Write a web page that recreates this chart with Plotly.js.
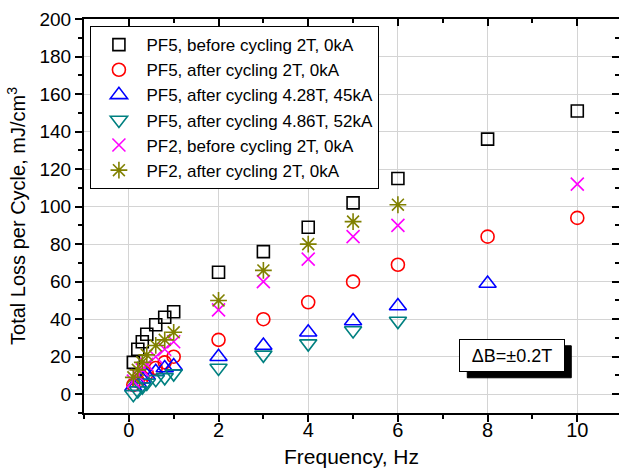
<!DOCTYPE html>
<html>
<head>
<meta charset="utf-8">
<script src="https://cdn.plot.ly/plotly-3.0.1.min.js"></script>
<style>html,body{margin:0;padding:0;overflow:hidden;background:#fff;}</style>
</head>
<body>
<div id="chart" style="width:619px;height:468px;"></div>
<script>
// Frequency values (Hz)
const freqLow = [0.1, 0.2, 0.3, 0.4, 0.6, 0.8, 1.0];
const freqPF5before = freqLow.concat([2, 3, 4, 5, 6, 8, 10]);
const freqPF5after2T = freqLow.concat([2, 3, 4, 5, 6, 8, 10]);
const freqPF5after428 = freqLow.concat([2, 3, 4, 5, 6, 8]);
const freqPF5after486 = freqLow.concat([2, 3, 4, 5, 6]);
const freqPF2before = freqLow.concat([2, 3, 4, 5, 6, 10]);
const freqPF2after = freqLow.concat([2, 3, 4, 5, 6]);

// Total loss per cycle (mJ/cm3)
const lossPF5before = [17, 24, 28, 32, 37, 41, 44, 65, 76, 89, 102, 115, 136, 151];
const lossPF5after2T = [5, 7, 9, 11, 14, 17, 20, 29, 40, 49, 60, 69, 84, 94];
const lossPF5after428 = [4, 6, 8, 10, 12, 14, 15, 20, 26, 33, 39, 47, 59];
const lossPF5after486 = [0, 2, 4, 6, 8, 9, 11, 14, 21, 27, 34, 39];
const lossPF2before = [7, 10, 13, 16, 20, 24, 28, 45, 60, 72, 84, 90, 112];
const lossPF2after = [9, 13, 17, 21, 26, 29, 33, 50, 66, 80, 92, 101];

const seriesNames = [
  "PF5, before cycling 2T, 0kA",
  "PF5, after cycling 2T, 0kA",
  "PF5, after cycling 4.28T, 45kA",
  "PF5, after cycling 4.86T, 52kA",
  "PF2, before cycling 2T, 0kA",
  "PF2, after cycling 2T, 0kA"
];
const xTickVals = [0, 2, 4, 6, 8, 10];
const yTickVals = [0, 20, 40, 60, 80, 100, 120, 140, 160, 180, 200];
const annotationText = "\u0394B=\u00B10.2T";
const annotationPos = [8.55, 20.5];

const xRange = [-1, 10.93];
const yRange = [-10, 200];

function mk(x, y, name, symbol, color, size) {
  return {
    x: x, y: y, name: name, type: 'scatter', mode: 'markers',
    marker: {symbol: symbol, size: size, color: color, line: {color: color, width: 1.6}},
    cliponaxis: false
  };
}

const data = [
  mk(freqPF5before, lossPF5before, seriesNames[0], 'square-open', '#000000', 12),
  mk(freqPF5after2T, lossPF5after2T, seriesNames[1], 'circle-open', '#ff0000', 13),
  mk(freqPF5after428, lossPF5after428, seriesNames[2], 'triangle-up-open', '#0000ff', 15),
  mk(freqPF5after486, lossPF5after486, seriesNames[3], 'triangle-down-open', '#008080', 15),
  mk(freqPF2before, lossPF2before, seriesNames[4], 'x-thin-open', '#ff00ff', 13),
  mk(freqPF2after, lossPF2after, seriesNames[5], 'asterisk-open', '#808000', 14),
  {x: [], y: [], xaxis: 'x2', yaxis: 'y2', showlegend: false, type: 'scatter', mode: 'markers'}
];

const fontFam = 'Arial, "Liberation Sans", sans-serif';

const layout = {
  width: 619, height: 468,
  margin: {l: 84, r: 0, t: 19, b: 55},
  paper_bgcolor: '#ffffff', plot_bgcolor: '#ffffff',
  font: {family: fontFam, color: '#000000', size: 18},
  showlegend: true,
  legend: {
    x: 0.012, y: 0.982, xanchor: 'left', yanchor: 'top',
    bgcolor: '#ffffff', bordercolor: '#000000', borderwidth: 1,
    font: {family: fontFam, size: 17, color: '#000000'},
    itemwidth: 45, tracegroupgap: 0
  },
  xaxis: {
    range: xRange, autorange: false,
    tickvals: xTickVals, ticktext: xTickVals.map(String),
    ticks: 'outside', ticklen: 7, tickwidth: 2, tickcolor: '#000000',
    ticklabelstandoff: -9,
    minor: {dtick: 1, ticks: 'outside', ticklen: 4, tickwidth: 2, tickcolor: '#000000', showgrid: false},
    showline: true, linecolor: '#000000', linewidth: 2,
    showgrid: true, gridcolor: '#d4d4d4', gridwidth: 1,
    zeroline: false,
    tickfont: {size: 20, family: fontFam},
    title: {text: 'Frequency, Hz', font: {size: 21, family: fontFam}, standoff: 14}
  },
  yaxis: {
    range: yRange, autorange: false,
    tickvals: yTickVals, ticktext: yTickVals.map(String),
    ticks: 'outside', ticklen: 7, tickwidth: 2, tickcolor: '#000000',
    minor: {dtick: 10, tick0: 0, ticks: 'outside', ticklen: 4, tickwidth: 2, tickcolor: '#000000', showgrid: false},
    showline: true, linecolor: '#000000', linewidth: 2,
    showgrid: true, gridcolor: '#d4d4d4', gridwidth: 1,
    zeroline: false,
    tickfont: {size: 19, family: fontFam},
    title: {text: 'Total Loss per Cycle, mJ/cm<sup>3</sup>', font: {size: 20, family: fontFam}, standoff: 8}
  },
  xaxis2: {
    overlaying: 'x', side: 'top', anchor: 'y2',
    range: xRange, autorange: false,
    tickvals: xTickVals, showticklabels: false,
    ticks: 'inside', ticklen: 7, tickwidth: 2, tickcolor: '#000000',
    minor: {dtick: 1, ticks: 'inside', ticklen: 4, tickwidth: 2, tickcolor: '#000000'},
    showline: true, linecolor: '#000000', linewidth: 2,
    showgrid: false, zeroline: false
  },
  yaxis2: {
    overlaying: 'y', side: 'right', anchor: 'x2',
    range: yRange, autorange: false,
    tickvals: yTickVals, showticklabels: false,
    ticks: 'inside', ticklen: 7, tickwidth: 2, tickcolor: '#000000',
    minor: {dtick: 10, tick0: 0, ticks: 'inside', ticklen: 4, tickwidth: 2, tickcolor: '#000000'},
    showline: false,
    showgrid: false, zeroline: false
  },
  shapes: [
    {
      type: 'rect', xref: 'x', yref: 'y',
      xsizemode: 'pixel', ysizemode: 'pixel',
      xanchor: annotationPos[0], yanchor: annotationPos[1],
      x0: -45, x1: 59, y0: -22, y1: 10,
      fillcolor: '#000000', line: {color: '#000000', width: 1}, layer: 'above'
    }
  ],
  annotations: [
    {
      x: annotationPos[0], y: annotationPos[1], xref: 'x', yref: 'y',
      text: annotationText, showarrow: false, bgcolor: '#ffffff', bordercolor: '#000000',
      borderwidth: 1, borderpad: 1, width: 102, height: 29,
      font: {size: 18, family: fontFam, color: '#000000'}
    }
  ]
};

Plotly.newPlot('chart', data, layout, {displayModeBar: false, staticPlot: true});
</script>
</body>
</html>
